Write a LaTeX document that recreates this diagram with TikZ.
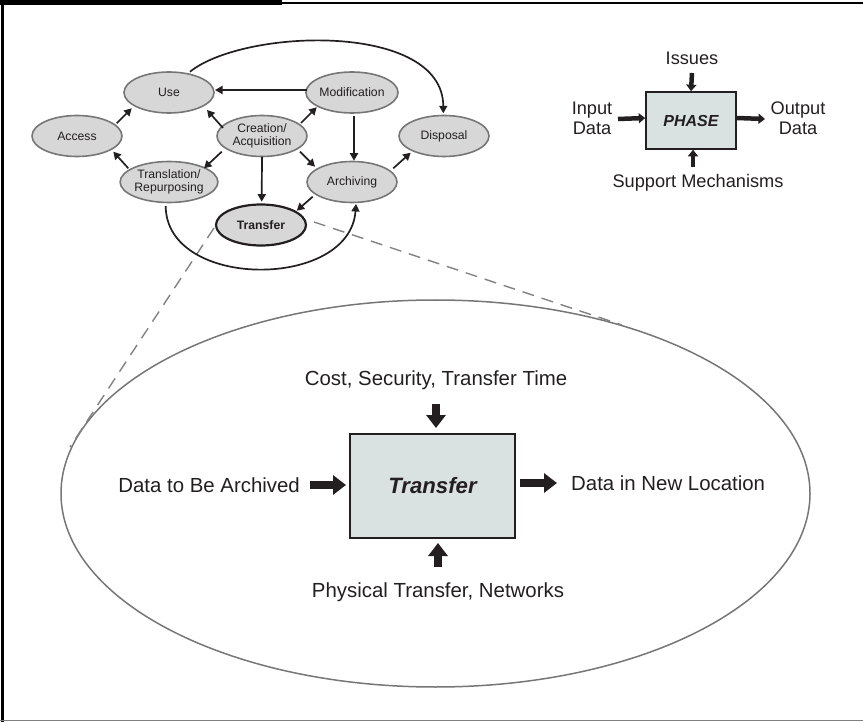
\documentclass[tikz,border=0pt]{standalone}
\usepackage{fontspec}
\setmainfont{Liberation Sans}
\usetikzlibrary{arrows.meta,shapes.geometric}
\definecolor{ink}{RGB}{35,31,32}
\definecolor{ellfill}{RGB}{215,215,215}
\definecolor{ellline}{RGB}{118,118,118}
\definecolor{boxfill}{RGB}{218,225,225}
\definecolor{dashgray}{RGB}{130,130,130}
\begin{document}
\begin{tikzpicture}[x=1pt,y=-1pt,
  stage/.style={ellipse, draw=ellline, line width=1.6pt, fill=ellfill,
    minimum width=90pt, minimum height=41pt, inner sep=0pt, align=center,
    text=ink, font=\fontsize{12.2}{13.5}\selectfont},
  flow/.style={draw=ink, line width=1.7pt, -{Triangle[length=7.5pt,width=8pt]}},
  phasebox/.style={rectangle, draw=ink, line width=1.6pt, fill=boxfill, inner sep=0pt},
  smallarrow/.style={draw=ink, line width=4.5pt, -{Triangle[length=6.5pt,width=10pt]}},
  bigarrow/.style={draw=ink, line width=8pt, -{Triangle[length=13pt,width=19pt]}},
  lbl/.style={text=ink, inner sep=0pt, align=center},
  zoomline/.style={draw=dashgray, line width=1.4pt, dash pattern=on 12pt off 8pt}
]
\useasboundingbox (0,0) rectangle (863,722);
% frame
\fill[black] (0,0) rectangle (282,5.5);
\draw[black, line width=2pt] (282,3.5) -- (863,3.5);
\draw[black, line width=2.2pt] (2.5,0) -- (2.5,722);
\draw[gray, line width=1.6pt] (0,720.5) -- (863,720.5);

% big ellipse
\node[ellipse, draw=ellline, line width=1.5pt, minimum width=749pt, minimum height=387pt, inner sep=0pt] (zoom) at (435.5,493.5) {};

% lifecycle graph
\node[stage] (use) at (169,92.5) {Use};
\node[stage] (mod) at (352,92.5) {Modification};
\node[stage] (access) at (77,136) {Access};
\node[stage] (creat) at (262,136) {Creation/\\Acquisition};
\node[stage] (disp) at (444,136) {Disposal};
\node[stage] (trans) at (169,182) {Translation/\\Repurposing};
\node[stage] (arch) at (352,182) {Archiving};
\node[stage, draw=ink, line width=2.2pt, font=\fontsize{12.2}{13.5}\selectfont\bfseries] (transfer) at (261,225) {Transfer};

% zoom lines
\draw[zoomline] ([shift={(-47,3)}]transfer.center) -- ([shift={(-365.5,-46.5)}]zoom.center);
\draw[zoomline] ([shift={(53,-3)}]transfer.center) -- ([shift={(186.5,-168.5)}]zoom.center);

\draw[flow] ([shift={(-45,-2.5)}]mod.center) -- ([shift={(46,-2.5)}]use.center);
\draw[flow] ([shift={(-39,-8)}]creat.center) -- ([shift={(38,17.5)}]use.center);
\draw[flow] ([shift={(39,-13)}]creat.center) -- ([shift={(-35.3,14.8)}]mod.center);
\draw[flow] ([shift={(39.7,-12.7)}]access.center) -- ([shift={(-37.3,15.8)}]use.center);
\draw[flow] ([shift={(-40.7,-13.7)}]trans.center) -- ([shift={(36.3,15.7)}]access.center);
\draw[flow] ([shift={(-40.3,15.7)}]creat.center) -- ([shift={(35,-13.7)}]trans.center);
\draw[flow] ([shift={(38,15.7)}]creat.center) -- ([shift={(-37,-15.3)}]arch.center);
\draw[flow] ([shift={(0,20.7)}]creat.center) -- ([shift={(0.7,-23.3)}]transfer.center);
\draw[flow] ([shift={(2,24)}]mod.center) -- ([shift={(2,-21.3)}]arch.center);
\draw[flow] ([shift={(41.3,-13.7)}]arch.center) -- ([shift={(-33.3,16.7)}]disp.center);
\draw[flow] ([shift={(-39.3,14.7)}]arch.center) -- ([shift={(35.7,-14.3)}]transfer.center);
\draw[flow] ([shift={(21,-20.8)}]use.center) .. controls (245,28) and (443,22) .. ([shift={(-0.7,-22.7)}]disp.center);
\draw[flow] ([shift={(-3.3,24)}]trans.center) .. controls (166,290) and (350,290) .. ([shift={(4,22)}]arch.center);

% PHASE legend
\node[phasebox, minimum width=90pt, minimum height=57pt, font=\fontsize{16}{18}\selectfont\bfseries\itshape, text=ink] (phase) at (691,120.5) {PHASE};
\node[lbl, font=\fontsize{18.2}{20}\selectfont] (issues) at (692,58) {Issues};
\node[lbl, font=\fontsize{18.2}{20}\selectfont] (input) at (592,118) {Input\\Data};
\node[lbl, font=\fontsize{18.2}{20}\selectfont] (output) at (798,118) {Output\\Data};
\node[lbl, font=\fontsize{18.2}{20}\selectfont] (support) at (698,183) {Support Mechanisms};
\draw[smallarrow] ([shift={(0,15)}]issues.center) -- (phase.north);
\draw[smallarrow] ([shift={(26,1)}]input.center) -- (phase.west |- input.center);
\draw[smallarrow] (phase.east |- output.center) -- ([shift={(-33,1)}]output.center);
\draw[smallarrow] ([shift={(-5,-16)}]support.center) -- ([shift={(2,0)}]phase.south);

% Transfer detail
\node[phasebox, line width=2pt, minimum width=165pt, minimum height=104pt, font=\fontsize{22.2}{24}\selectfont\bfseries\itshape, text=ink] (tbox) at (432.5,486) {Transfer};
\node[lbl, font=\fontsize{20.4}{22}\selectfont] (cost) at (436,380) {Cost, Security, Transfer Time};
\node[lbl, font=\fontsize{20.4}{22}\selectfont, anchor=east] (datain) at (300,485) {Data to Be Archived};
\node[lbl, font=\fontsize{20.4}{22}\selectfont, anchor=west] (dataout) at (571,483) {Data in New Location};
\node[lbl, font=\fontsize{20.4}{22}\selectfont] (phys) at (438,592) {Physical Transfer, Networks};
\draw[bigarrow] ([shift={(10,0)}]datain.east) -- ([shift={(-3,0)}]tbox.west |- datain.east);
\draw[bigarrow] ([shift={(4,0)}]tbox.east |- dataout.west) -- ([shift={(-14,0)}]dataout.west);
\draw[bigarrow] ([shift={(0,24)}]cost.center) -- ([shift={(0,-5)}]cost.center |- tbox.north);
\draw[bigarrow] ([shift={(0,-25)}]phys.center) -- ([shift={(0,4)}]phys.center |- tbox.south);
\end{tikzpicture}
\end{document}
